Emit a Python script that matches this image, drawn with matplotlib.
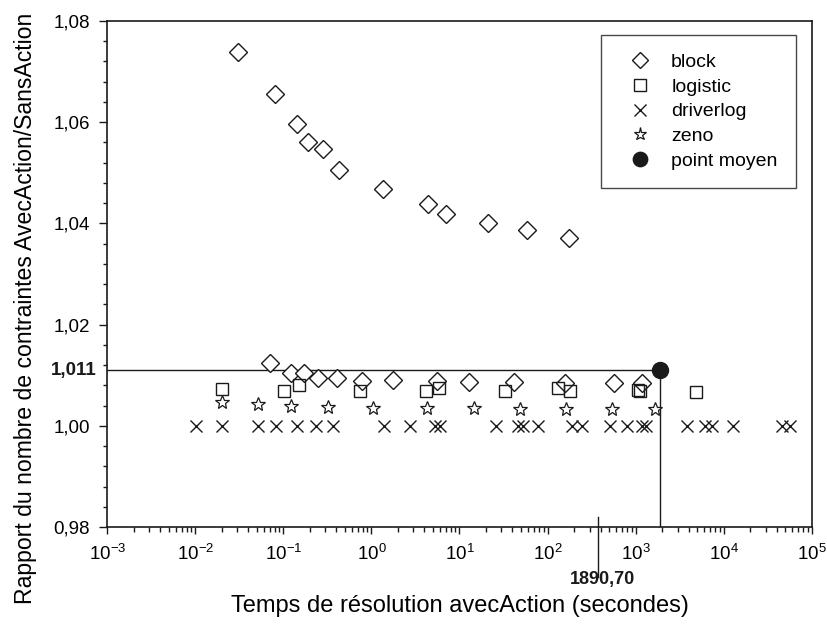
import numpy as np
import matplotlib
matplotlib.use('Agg')
import matplotlib.pyplot as plt
from matplotlib.ticker import FixedLocator, FuncFormatter, LogLocator, NullFormatter

plt.rcParams['font.family'] = ['Liberation Sans', 'DejaVu Sans']
plt.rcParams['mathtext.fontset'] = 'custom'
plt.rcParams['mathtext.rm'] = 'Liberation Sans'

# temps de resolution (s) et rapport de contraintes
block_t = [0.0305, 0.0809, 0.1416, 0.192, 0.282, 0.425, 1.36, 4.43, 7.03, 20.9, 58.5, 175,
           0.0705, 0.121, 0.171, 0.245, 0.406, 0.781, 1.74, 5.55, 12.7, 41.4, 158, 573, 1191]
block_r = [1.0739, 1.0655, 1.0597, 1.0561, 1.0547, 1.0505, 1.0467, 1.0438, 1.0418, 1.0401, 1.0387, 1.0371,
           1.01237, 1.01052, 1.0104, 1.00941, 1.00941, 1.00894, 1.00908, 1.00888, 1.00874, 1.00862,
           1.00854, 1.00842, 1.00842]

logistic_t = [0.0202, 0.102, 0.152, 0.736, 4.20, 5.81, 32.9, 132, 180, 1074, 1122, 4853]
logistic_r = [1.00724, 1.0070, 1.0081, 1.0070, 1.0069, 1.00756, 1.0070, 1.00756, 1.0069, 1.0071, 1.0069, 1.00677]

driverlog_t = [0.0102, 0.0202, 0.0511, 0.0818, 0.1426, 0.234, 0.363, 1.38, 2.74, 5.27, 6.01, 26.3,
               46.1, 53.0, 78.5, 188, 244, 512, 792, 1173, 1302, 3805, 6142, 7316, 12870, 45600, 56600]
driverlog_r = [1.000] * len(driverlog_t)

zeno_t = [0.0202, 0.0515, 0.122, 0.318, 1.03, 4.24, 14.5, 49.0, 161, 543, 1660]
zeno_r = [1.00479, 1.00434, 1.0040, 1.00381, 1.00361, 1.00361, 1.00349, 1.00335, 1.00335, 1.00335, 1.00335]

moyen_t = 1890.70
moyen_r = 1.011
repere_t = 378  # position du trait du label 1890,70 sur l'axe

yticks = [0.98, 1.00, 1.02, 1.04, 1.06, 1.08]

fig = plt.figure(figsize=(8.27, 6.24), dpi=100)
ax = fig.add_axes([0.1297, 0.155, 0.8518, 0.8118])

col = '#1a1a1a'
ax.plot(block_t, block_r, linestyle='none', marker='D', ms=8.8, mfc='white', mec=col, mew=1.0,
        label='block', zorder=3)
ax.plot(logistic_t, logistic_r, linestyle='none', marker='s', ms=8.8, mfc='none', mec=col, mew=1.0,
        label='logistic', zorder=3)
ax.plot(driverlog_t, driverlog_r, linestyle='none', marker='x', ms=9.2, mec=col, mew=1.0,
        label='driverlog', zorder=3)
ax.plot(zeno_t, zeno_r, linestyle='none', marker='*', ms=10.5, mfc='white', mec=col, mew=0.9,
        label='zeno', zorder=3)
ax.plot([moyen_t], [moyen_r], linestyle='none', marker='o', ms=11.5, mfc=col, mec=col,
        label='point moyen', zorder=4)

# lignes de repere du point moyen
ax.plot([1e-3, moyen_t], [moyen_r, moyen_r], color=col, lw=1.0, zorder=2)
ax.plot([moyen_t, moyen_t], [0.98, moyen_r], color=col, lw=1.0, zorder=2)

ax.set_xscale('log')
ax.set_xlim(1e-3, 1e5)
ax.set_ylim(0.98, 1.08)

ax.xaxis.set_major_locator(LogLocator(base=10, numticks=20))
ax.xaxis.set_minor_locator(LogLocator(base=10, subs=np.arange(2, 10), numticks=20))
ax.xaxis.set_minor_formatter(NullFormatter())
ax.xaxis.set_major_formatter(FuncFormatter(lambda v, p: r'$\mathregular{10^{%d}}$' % round(np.log10(v))))

ax.yaxis.set_major_locator(FixedLocator(yticks))
ax.yaxis.set_minor_locator(FixedLocator(np.arange(0.98, 1.0801, 0.004)))
ax.yaxis.set_major_formatter(FuncFormatter(lambda v, p: ('%.2f' % v).replace('.', ',')))

ax.tick_params(which='major', direction='out', length=5.8, width=1.0, labelsize=13.5, pad=6.5, color=col)
ax.tick_params(which='minor', direction='out', length=3.2, width=1.0, color=col)
ax.tick_params(axis='x', which='major', length=5, pad=7)
ax.tick_params(axis='x', which='minor', length=3.6)
for s in ax.spines.values():
    s.set_linewidth(1.2)
    s.set_color(col)

ax.set_xlabel('Temps de résolution avecAction (secondes)', fontsize=17, labelpad=22)
ax.set_ylabel('Rapport du nombre de contraintes AvecAction/SansAction', fontsize=16.6)
ax.yaxis.set_label_coords(-0.0998, 0.433)

# etiquettes du point moyen
ax.text(-0.015, moyen_r, '1,011', transform=ax.get_yaxis_transform(), ha='right', va='center',
        fontsize=13.5, fontweight='bold', color=col)
ax.plot([repere_t, repere_t], [0.02, -0.098], transform=ax.get_xaxis_transform(), color=col,
        lw=1.0, clip_on=False)
ax.text(repere_t * 1.12, -0.104, '1890,70', transform=ax.get_xaxis_transform(), ha='center', va='center',
        fontsize=13, fontweight='bold', color=col)

leg = ax.legend(loc='upper right', bbox_to_anchor=(0.9777, 0.9718), borderaxespad=0,
                fancybox=False, edgecolor=col, fontsize=14, handlelength=2.1, handletextpad=0.55,
                borderpad=0.95, labelspacing=0.36, markerscale=0.9)
leg.get_frame().set_linewidth(1.0)

fig.savefig('out.png', dpi=100)
